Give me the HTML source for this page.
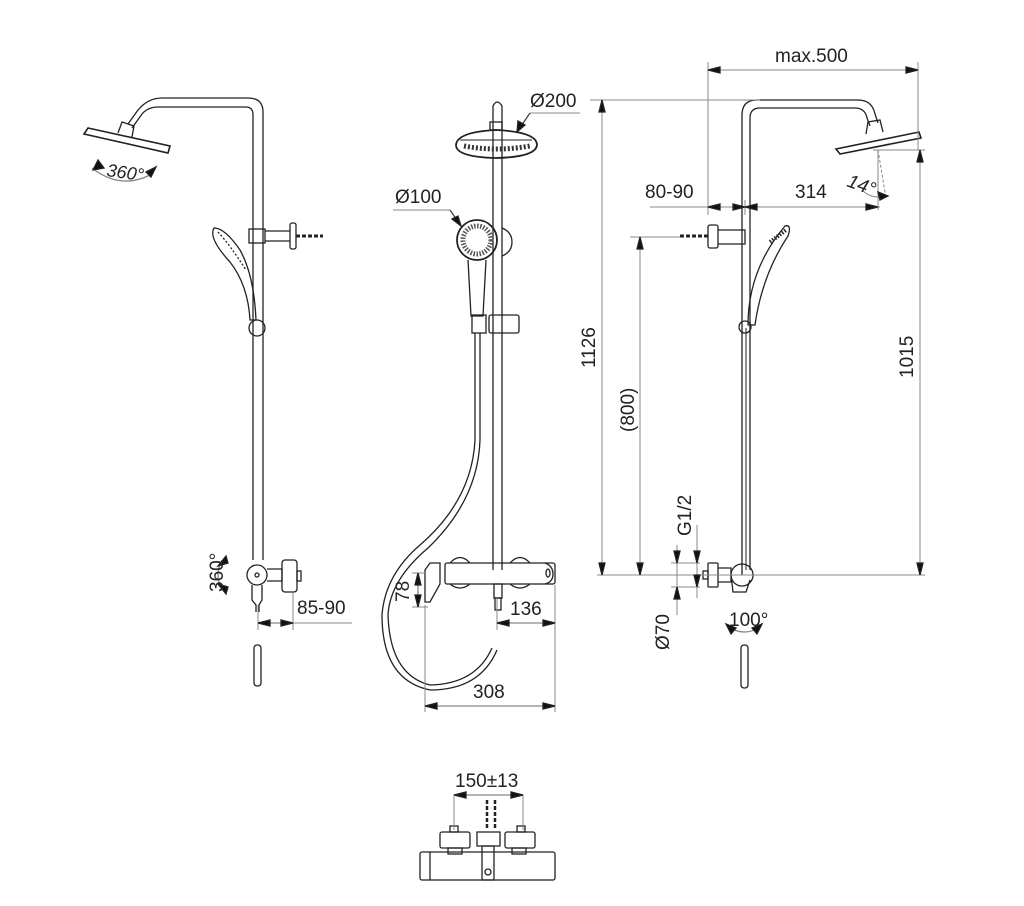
<!DOCTYPE html>
<html><head><style>
html,body{margin:0;padding:0;background:#fff;}
svg{display:block;}
text{font-family:"Liberation Sans",sans-serif;fill:#222;stroke:none;}
</style></head><body>
<svg width="1024" height="906" viewBox="0 0 1024 906" xmlns="http://www.w3.org/2000/svg">
<g fill="none" stroke="#222" stroke-width="1.3">
<!-- LEFT VIEW -->
<path d="M128,124 L138,110 Q148,98 162,98 L248,98 Q263,98 263,112 L263,560"/>
<path d="M132,128 L142,114 Q148,107 158,107 L246,107 Q253,107 253,115 L253,560"/>
<path d="M84,134 L88,128 L170,146 L168,153 Z" stroke-width="1.6"/>
<path d="M118,133 L122,122 L134,126 L132,137"/>
<path d="M92,168 Q120,190 150,175" stroke="#888"/>
<path d="M98,160 L93,170 L104,168 Z M146,172 L156,167 L151,177 Z" fill="#111"/>
<rect x="249" y="229" width="16" height="14"/>
<path d="M265,231 L290,231 M265,241 L290,241"/>
<rect x="290" y="223" width="6" height="26" rx="2"/>
<path d="M296,236 L323,236" stroke-width="3" stroke-dasharray="4 2"/>
<path d="M214,228 Q208,238 230,262 Q248,285 250,320 L256,320 Q254,275 240,250 Q225,228 214,228 Z"/>
<path d="M218,232 Q230,245 246,270" stroke-dasharray="2 2"/>
<circle cx="257" cy="328" r="8"/>
<circle cx="257" cy="575" r="10"/><circle cx="257" cy="575" r="2"/>
<path d="M267,569 L282,569 L282,581 L267,581"/>
<rect x="282" y="560" width="15" height="32" rx="3"/>
<rect x="297" y="571" width="4" height="10"/>
<path d="M252,585 L252,600 L256,605 L256,612 M262,585 L262,600 L259,605 L259,612"/>
<rect x="254" y="645" width="7" height="41" rx="3"/>
<path d="M222,560 Q214,575 222,590" stroke="#888"/>
<path d="M226,556 L218,566 L228,563 Z M226,594 L218,584 L228,587 Z" fill="#111"/>
<g stroke="#888" stroke-width="1"><path d="M258,605 L258,630 M293,592 L293,630 M293,623 L352,623"/></g>
<path d="M258,623 L293,623" stroke="#888"/>
<path d="M258,623 L270,620 L270,626Z M293,623 L281,620 L281,626Z" fill="#111"/>
<!-- MIDDLE VIEW -->
<path d="M493,570 L493,106 Q497,98 502,106 L502,570"/>
<path d="M456,145 Q457,132 496,130 Q537,132 537,145 Q536,157 496,158 Q456,157 456,145 Z" stroke-width="1.8"/>
<path d="M460,140 L532,140" stroke-width="1"/>
<path d="M464,146 Q496,152 530,146" stroke-width="5" stroke-dasharray="2 2" stroke="#333"/>
<rect x="490" y="122" width="12" height="8"/>
<circle cx="477" cy="240" r="20" stroke-width="1.8"/>
<circle cx="477" cy="240" r="14" stroke-width="5" stroke-dasharray="1.5 1.5" stroke="#555"/>
<path d="M468,260 L471,316 L483,316 L486,260"/>
<path d="M502,228 Q512,232 512,242 Q512,252 502,256"/>
<rect x="472" y="315" width="14" height="18"/><rect x="489" y="315" width="30" height="18" rx="2"/>
<path d="M475,333 L475,440 Q472,500 420,545 Q385,575 382,615 Q382,680 430,690 Q480,690 497,650"/>
<path d="M480,333 L480,440 Q478,500 428,548 Q390,580 388,615 Q390,675 430,685 Q476,684 492,648"/>
<rect x="445" y="563" width="110" height="21" rx="2"/>
<path d="M545,563 Q553,566 553,574 Q553,582 545,584"/>
<ellipse cx="548" cy="573" rx="2" ry="4"/>
<path d="M430,563 L440,563 L440,584 L430,602 L425,602 L425,570 Z"/>
<path d="M450,563 Q460,552 470,563 M510,563 Q520,552 530,563 M450,584 Q460,592 470,584 M510,584 Q520,592 530,584"/>
<rect x="494" y="584" width="8" height="14"/><rect x="495" y="598" width="6" height="12"/>
<g stroke="#888" stroke-width="1">
<path d="M530,113 L580,113 M393,210 L450,210"/>
<path d="M412,573 L425,573 M412,607 L428,607"/>
<path d="M497,598 L497,630 M555,585 L555,712 M425,605 L425,712"/>
</g>
<path d="M530,113 L517,132 M450,210 L461,226" stroke="#444"/>
<path d="M517,132 L518,121 L525,125Z M461,226 L452,219 L458,216Z" fill="#111"/>
<path d="M418,573 L418,607" stroke="#888"/>
<path d="M418,573 L415,585 L421,585Z M418,607 L415,595 L421,595Z" fill="#111"/>
<path d="M497,623 L555,623 M425,706 L555,706" stroke="#888"/>
<path d="M497,623 L509,620 L509,626Z M555,623 L543,620 L543,626Z M425,706 L437,703 L437,709Z M555,706 L543,703 L543,709Z" fill="#111"/>
<!-- RIGHT VIEW -->
<path d="M742,575 L742,115 Q742,100 757,100 L858,100 Q872,100 875,114 L878,123"/>
<path d="M750,570 L750,118 Q750,108 760,108 L855,108 Q865,108 867,118 L870,126"/>
<path d="M836,149 L840,154 L921,138 L919,132 Z" stroke-width="1.6"/>
<path d="M866,134 L868,122 L880,120 L883,132"/>
<rect x="708" y="225" width="10" height="23" rx="2"/>
<path d="M718,230 L745,230 L745,244 L718,244"/>
<path d="M680,236 L708,236" stroke-width="3" stroke-dasharray="4 2"/>
<path d="M748,325 Q748,270 785,226 Q792,224 788,236 Q762,275 755,325 Z"/>
<path d="M770,242 L786,230" stroke-width="4" stroke-dasharray="1.5 1.5"/>
<circle cx="745" cy="327" r="6"/>
<path d="M746,328 L746,570" stroke-width="1"/>
<circle cx="742" cy="575" r="11"/>
<path d="M731,575 L733,592 L746,592 L750,580"/>
<path d="M718,568 L731,568 L731,582 L718,582"/>
<rect x="708" y="563" width="10" height="24" rx="1"/>
<rect x="703" y="571" width="5" height="8"/>
<rect x="741" y="645" width="7" height="43" rx="3"/>
<path d="M730,628 Q745,636 758,628" stroke="#888"/>
<path d="M726,624 L736,628 L731,634Z M762,624 L752,628 L757,634Z" fill="#111"/>
<g stroke="#888" stroke-width="1">
<path d="M590,100 L760,100 M602,100 L602,575 M597,575 L925,575"/>
<path d="M630,237 L680,237 M640,237 L640,575"/>
<path d="M708,62 L708,215 M918,62 L918,150 M708,70 L918,70"/>
<path d="M873,150 L925,150 M920,150 L920,575"/>
<path d="M650,207 L880,207 M745,200 L745,215 M878,150 L878,210"/>
<path d="M878,150 L886,198" stroke-dasharray="3 2"/>
<path d="M862,190 Q872,200 888,196"/>
<path d="M671,563 L700,563 M671,587 L700,587 M677,545 L677,615 M697,525 L697,598"/>
</g>
<path d="M602,100 L599,112 L605,112Z M602,575 L599,563 L605,563Z M640,237 L637,249 L643,249Z M640,575 L637,563 L643,563Z M708,70 L720,67 L720,73Z M918,70 L906,67 L906,73Z M920,150 L917,162 L923,162Z M920,575 L917,563 L923,563Z M708,207 L720,204 L720,210Z M745,207 L733,204 L733,210Z M745,207 L757,204 L757,210Z M878,207 L866,204 L866,210Z M888,196 L878,192 L880,200Z M677,563 L674,551 L680,551Z M677,587 L674,599 L680,599Z M697,563 L694,551 L700,551Z M697,587 L694,575 L700,575Z" fill="#111"/>
<!-- BOTTOM THERMOSTAT -->
<rect x="420" y="852" width="135" height="28" rx="2"/>
<path d="M430,852 L430,880"/>
<rect x="440" y="832" width="30" height="16" rx="2"/><rect x="505" y="832" width="30" height="16" rx="2"/>
<rect x="448" y="848" width="14" height="6"/><rect x="512" y="848" width="14" height="6"/>
<rect x="450" y="826" width="8" height="6"/><rect x="517" y="826" width="8" height="6"/>
<path d="M477,832 L500,832 L500,846 L477,846 Z"/>
<rect x="482" y="846" width="12" height="34"/><circle cx="488" cy="872" r="3"/>
<path d="M487,800 L487,830 M495,800 L495,830" stroke-width="2.5" stroke-dasharray="4 2"/>
<path d="M454,795 L454,830 M523,795 L523,830" stroke="#888" stroke-width="1"/>
<path d="M454,795 L523,795" stroke="#888"/>
<path d="M454,795 L466,792 L466,798Z M523,795 L511,792 L511,798Z" fill="#111"/>
</g>
<g font-size="19">
<text x="106" y="176" font-style="italic" transform="rotate(8 106 176)" font-size="18">360°</text>
<text x="530" y="107">Ø200</text>
<text x="395" y="203">Ø100</text>
<text x="775" y="62">max.500</text>
<text x="645" y="198">80-90</text>
<text x="795" y="198">314</text>
<text x="846" y="186" font-style="italic" transform="rotate(20 846 186)">14°</text>
<text x="297" y="614">85-90</text>
<text x="510" y="615">136</text>
<text x="473" y="698">308</text>
<text x="729" y="626">100°</text>
<text x="455" y="787">150±13</text>
<text transform="translate(595,368) rotate(-90)">1126</text>
<text transform="translate(634,432) rotate(-90)">(800)</text>
<text transform="translate(913,378) rotate(-90)">1015</text>
<text transform="translate(691,536) rotate(-90)">G1/2</text>
<text transform="translate(669,650) rotate(-90)">Ø70</text>
<text transform="translate(409,602) rotate(-90)">78</text>
<text transform="translate(223,592) rotate(-90)">360°</text>
</g>
</svg>
</body></html>
